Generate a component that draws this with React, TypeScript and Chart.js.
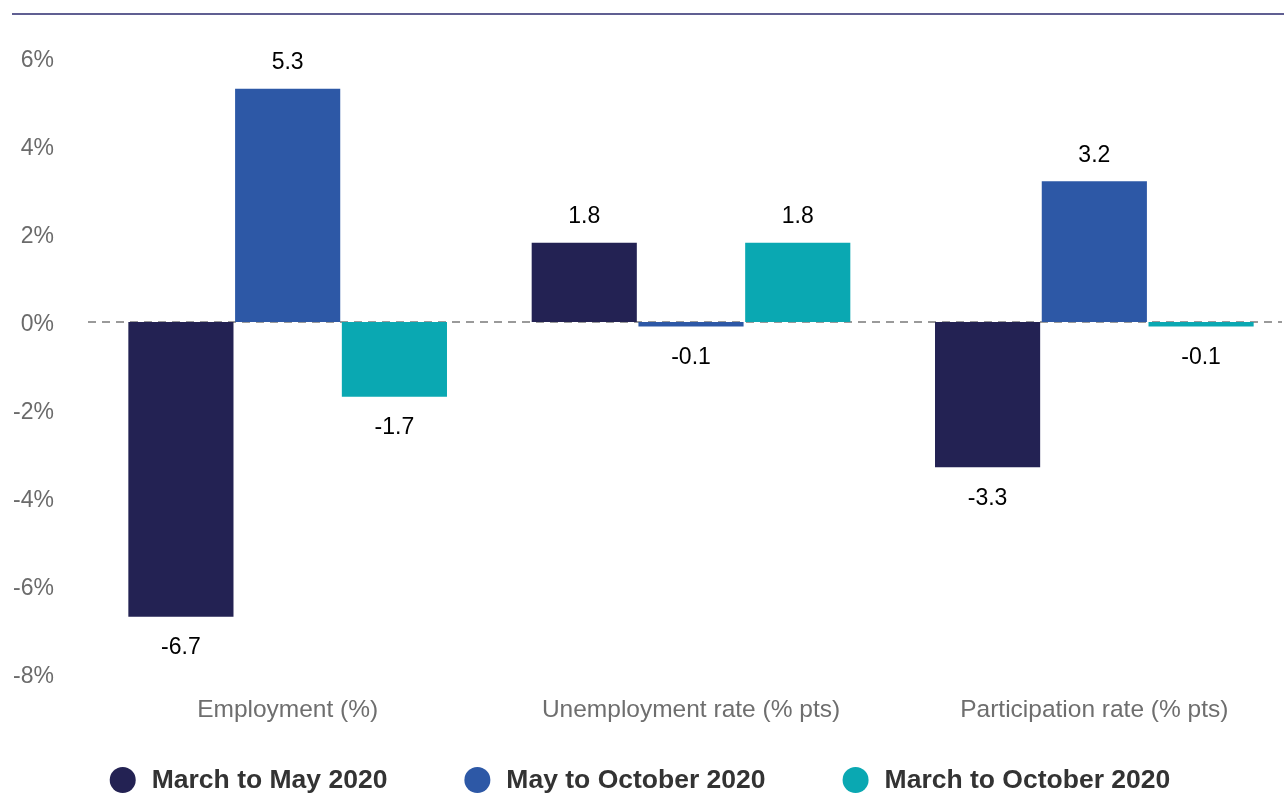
import React, { useEffect, useRef } from "react";
import { Chart, registerables } from "chart.js";

Chart.register(...registerables);

const categories = ["Employment (%)", "Unemployment rate (% pts)", "Participation rate (% pts)"];
const seriesLabels = ["March to May 2020", "May to October 2020", "March to October 2020"];
const marchToMay = [-6.7, 1.8, -3.3];
const mayToOct = [5.3, -0.1, 3.2];
const marchToOct = [-1.7, 1.8, -0.1];
const seriesColors = ["#232253", "#2d58a6", "#0aa8b2"];
const yTicks = [-8, -6, -4, -2, 0, 2, 4, 6];

const FONT = "'Liberation Sans', Arial, sans-serif";

const decorPlugin = {
  id: "decor",
  beforeDatasetsDraw(chart: any) {
    const { ctx, chartArea, scales } = chart;
    const y0 = scales.y.getPixelForValue(0);
    ctx.save();
    ctx.strokeStyle = "#9a9a9a";
    ctx.lineWidth = 2;
    ctx.setLineDash([8, 6]);
    ctx.beginPath();
    ctx.moveTo(chartArea.left + 2, y0);
    ctx.lineTo(1282, y0);
    ctx.stroke();
    ctx.restore();
    // top rule
    ctx.save();
    ctx.strokeStyle = "#2b2a6e";
    ctx.lineWidth = 1.5;
    ctx.beginPath();
    ctx.moveTo(12, 14);
    ctx.lineTo(1296, 14);
    ctx.stroke();
    ctx.restore();
  },
  afterDatasetsDraw(chart: any) {
    const { ctx } = chart;
    ctx.save();
    ctx.font = `23px ${FONT}`;
    ctx.fillStyle = "#000";
    ctx.textAlign = "center";
    ctx.textBaseline = "middle";
    chart.data.datasets.forEach((ds: any, di: number) => {
      const meta = chart.getDatasetMeta(di);
      meta.data.forEach((bar: any, i: number) => {
        const v = ds.data[i];
        const y = v >= 0 ? bar.y - 26 : bar.y + 31;
        ctx.fillText(v.toFixed(1), bar.x, y);
      });
    });
    ctx.restore();
  },
  afterDraw(chart: any) {
    const { ctx } = chart;
    ctx.save();
    ctx.font = `bold 26.5px ${FONT}`;
    ctx.textBaseline = "middle";
    const r = 13;
    const gapCircleText = 16;
    const gapItems = 77;
    const widths = chart.data.datasets.map((d: any) => ctx.measureText(d.label).width);
    const total = widths.reduce((a: number, w: number) => a + 2 * r + gapCircleText + w, 0) + gapItems * (widths.length - 1);
    let x = 640 - total / 2;
    const y = 781;
    chart.data.datasets.forEach((d: any, i: number) => {
      ctx.fillStyle = d.backgroundColor;
      ctx.beginPath();
      ctx.arc(x + r, y - 1, r, 0, Math.PI * 2);
      ctx.fill();
      x += 2 * r + gapCircleText;
      ctx.fillStyle = "#333333";
      ctx.textAlign = "left";
      ctx.fillText(d.label, x, y);
      x += widths[i] + gapItems;
    });
    ctx.restore();
  },
};

export default function App() {
  const ref = useRef<HTMLCanvasElement>(null);
  useEffect(() => {
    document.body.style.margin = "0";
    const data = [marchToMay, mayToOct, marchToOct];
    const chart = new Chart(ref.current as HTMLCanvasElement, {
      type: "bar",
      data: {
        labels: categories,
        datasets: seriesLabels.map((label, i) => ({
          label,
          data: data[i],
          backgroundColor: seriesColors[i],
          borderWidth: 0,
          categoryPercentage: 0.794,
          barPercentage: 0.985,
        })),
      },
      options: {
        responsive: false,
        animation: false,
        layout: { padding: { top: 58, left: 0, right: 0, bottom: 0 } },
        plugins: { legend: { display: false }, tooltip: { enabled: false } },
        scales: {
          x: {
            grid: { display: false, drawTicks: false },
            border: { display: false },
            ticks: {
              color: "#6e6e6e",
              font: { family: FONT, size: 24.5 },
              padding: 22,
              maxRotation: 0,
              autoSkip: false,
            },
            afterFit(scale: any) {
              scale.height = 120;
            },
          },
          y: {
            min: -8,
            max: 6,
            afterBuildTicks(scale: any) {
              scale.ticks = yTicks.map((v) => ({ value: v }));
            },
            grid: { display: false, drawTicks: false },
            border: { display: false },
            ticks: {
              color: "#6b6b6b",
              font: { family: FONT, size: 23 },
              padding: 32,
              labelOffset: 2.5,
              callback: (v: any) => `${v}%`,
            },
            afterFit(scale: any) {
              scale.width = 86;
            },
          },
        },
      },
      plugins: [decorPlugin],
    });
    return () => chart.destroy();
  }, []);
  return (
    <div style={{ width: 1284, height: 794, overflow: "hidden", position: "relative" }}>
      <canvas ref={ref} width={1296} height={794} style={{ display: "block" }} />
    </div>
  );
}
